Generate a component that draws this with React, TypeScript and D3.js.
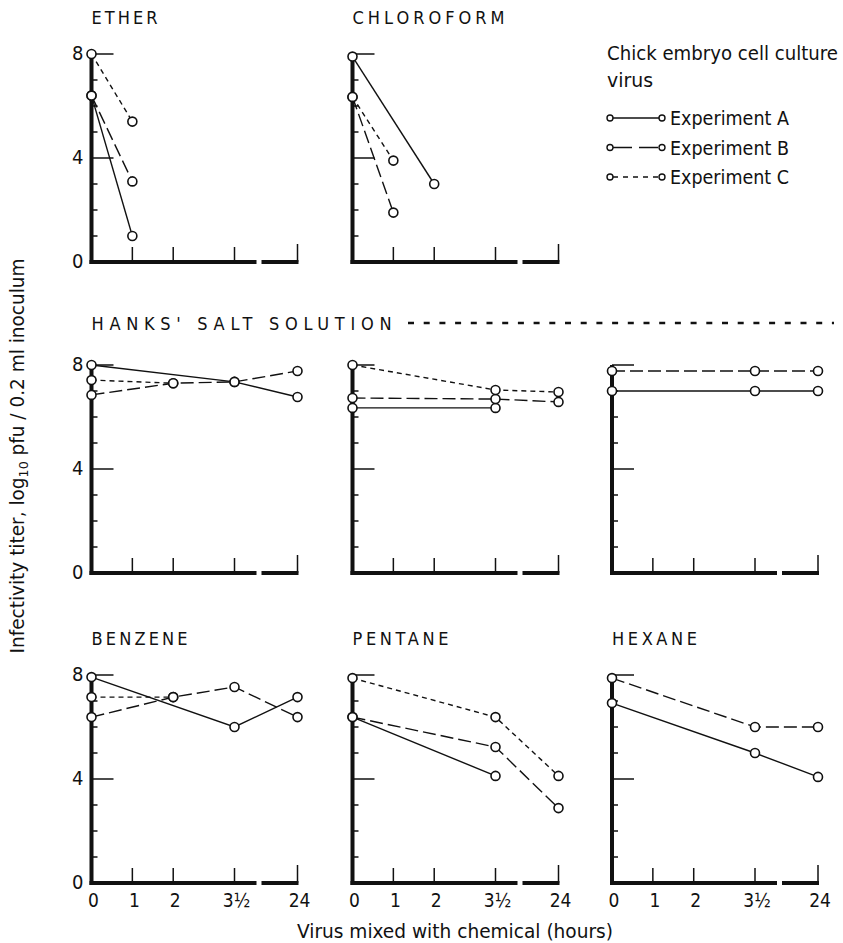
import React from "react";
import * as d3 from "d3";

type Pt = [number, number]; // [hours, log10 pfu]

// axis values
const hourTicks = [1, 2, 3.5, 24];
const hourLabelAt = [0, 1, 2, 3.5, 24];
const hourLabels = ["0", "1", "2", "3½", "24"];
const titerTicks = [1, 2, 3, 4, 5, 6, 7, 8];
const titerLabelAt = [0, 4, 8];

// series
const etherA: Pt[] = [[0, 6.4], [1, 1.0]];
const etherB: Pt[] = [[0, 6.4], [1, 3.1]];
const etherC: Pt[] = [[0, 8.0], [1, 5.4]];

const chloroA: Pt[] = [[0, 7.9], [2, 3.0]];
const chloroB: Pt[] = [[0, 6.35], [1, 1.9]];
const chloroC: Pt[] = [[0, 6.35], [1, 3.9]];

const hanks1A: Pt[] = [[0, 8.0], [3.5, 7.35], [24, 6.77]];
const hanks1B: Pt[] = [[0, 6.85], [2, 7.3], [3.5, 7.35], [24, 7.77]];
const hanks1C: Pt[] = [[0, 7.42], [2, 7.3]];

const hanks2A: Pt[] = [[0, 6.35], [3.5, 6.35]];
const hanks2B: Pt[] = [[0, 6.73], [3.5, 6.69], [24, 6.58]];
const hanks2C: Pt[] = [[0, 8.0], [3.5, 7.04], [24, 6.96]];

const hanks3A: Pt[] = [[0, 7.0], [3.5, 7.0], [24, 7.0]];
const hanks3B: Pt[] = [[0, 7.77], [3.5, 7.77], [24, 7.77]];

const benzeneA: Pt[] = [[0, 7.92], [3.5, 6.0], [24, 7.15]];
const benzeneB: Pt[] = [[0, 6.38], [2, 7.15], [3.5, 7.54], [24, 6.38]];
const benzeneC: Pt[] = [[0, 7.15], [2, 7.15]];

const pentaneA: Pt[] = [[0, 6.38], [3.5, 4.12]];
const pentaneB: Pt[] = [[0, 6.38], [3.5, 5.23], [24, 2.88]];
const pentaneC: Pt[] = [[0, 7.88], [3.5, 6.38], [24, 4.12]];

const hexaneA: Pt[] = [[0, 6.92], [3.5, 5.0], [24, 4.08]];
const hexaneB: Pt[] = [[0, 7.88], [3.5, 6.0], [24, 6.0]];

const experiments = ["A", "B", "C"];
const legendLabels = ["Experiment A", "Experiment B", "Experiment C"];

const dashes: Record<string, string | undefined> = {
  A: undefined,
  B: "13,5",
  C: "5,4",
};
const legendDashes: Record<string, string | undefined> = {
  A: undefined,
  B: "19,7",
  C: "5,5",
};

const panels = [
  { title: "ETHER", tw: 66, col: 0, row: 0, series: { A: etherA, B: etherB, C: etherC } },
  { title: "CHLOROFORM", tw: 152, col: 1, row: 0, series: { A: chloroA, B: chloroB, C: chloroC } },
  { title: "", tw: 0, col: 0, row: 1, series: { A: hanks1A, B: hanks1B, C: hanks1C } },
  { title: "", tw: 0, col: 1, row: 1, series: { A: hanks2A, B: hanks2B, C: hanks2C } },
  { title: "", tw: 0, col: 2, row: 1, series: { A: hanks3A, B: hanks3B } },
  { title: "BENZENE", tw: 96, col: 0, row: 2, series: { A: benzeneA, B: benzeneB, C: benzeneC } },
  { title: "PENTANE", tw: 96, col: 1, row: 2, series: { A: pentaneA, B: pentaneB, C: pentaneC } },
  { title: "HEXANE", tw: 85, col: 2, row: 2, series: { A: hexaneA, B: hexaneB } },
];

const colX = [91.5, 352.5, 612];
const rowY = [262, 573, 883];
const W = 843;
const H = 943;
const font = "'Liberation Sans Narrow','DejaVu Sans Condensed','Liberation Sans',Arial,sans-serif";
const ink = "#111";

function Panel({ p }: { p: (typeof panels)[number] }) {
  const x0 = colX[p.col];
  const y0 = rowY[p.row];
  // piecewise: 0..3.5 h evenly spaced, then a break before 24 h
  const x = d3.scaleLinear().domain([0, 3.5, 24]).range([x0, x0 + 143, x0 + 206]);
  const y = d3.scaleLinear().domain([0, 8]).range([y0, y0 - 208]);
  const line = d3
    .line<Pt>()
    .x((d) => x(d[0]))
    .y((d) => y(d[1]));
  const showY = p.col === 0;
  const showX = p.row === 2;
  const entries = Object.entries(p.series) as [string, Pt[]][];

  return (
    <g>
      {p.title && (
        <text
          x={x0}
          y={y0 - 238}
          fontSize={18}
          fontFamily={font}
          textLength={p.tw}
          lengthAdjust="spacing"
          fill={ink}
        >
          {p.title}
        </text>
      )}
      {/* y axis */}
      <line x1={x0} x2={x0} y1={y(0) + 2} y2={y(8)} stroke={ink} strokeWidth={4} />
      {titerTicks.map((t) => (
        <line
          key={t}
          x1={x0}
          x2={x0 + (t % 4 === 0 ? 22 : 6)}
          y1={y(t)}
          y2={y(t)}
          stroke={ink}
          strokeWidth={1.5}
        />
      ))}
      {showY &&
        titerLabelAt.map((t) => (
          <text
            key={t}
            x={x0 - 8}
            y={y(t) + 6}
            textAnchor="end"
            fontSize={20}
            fontFamily={font}
            fill={ink}
          >
            {t}
          </text>
        ))}
      {/* x axis with a break before 24 h */}
      <line x1={x0 - 2} x2={x0 + 165} y1={y0} y2={y0} stroke={ink} strokeWidth={4} />
      <line x1={x0 + 170} x2={x(24) + 1} y1={y0} y2={y0} stroke={ink} strokeWidth={4} />
      {hourTicks.map((h) => (
        <line
          key={h}
          x1={x(h)}
          x2={x(h)}
          y1={y0}
          y2={y0 - (h === 24 ? 18 : 15)}
          stroke={ink}
          strokeWidth={1.5}
        />
      ))}
      {showX &&
        hourLabelAt.map((h, i) => (
          <text
            key={h}
            x={x(h) + 2}
            y={y0 + 24}
            textAnchor="middle"
            fontSize={19}
            fontFamily={font}
            fill={ink}
          >
            {hourLabels[i]}
          </text>
        ))}
      {/* series */}
      {entries.map(([k, pts]) => (
        <path
          key={"l" + k}
          d={line(pts) ?? ""}
          fill="none"
          stroke={ink}
          strokeWidth={1.4}
          strokeDasharray={dashes[k]}
        />
      ))}
      {entries.map(([k, pts]) =>
        pts.map((d, i) => (
          <circle
            key={k + i}
            cx={x(d[0])}
            cy={y(d[1])}
            r={4.5}
            fill="#fff"
            stroke={ink}
            strokeWidth={1.6}
          />
        ))
      )}
    </g>
  );
}

export default function App() {
  const legendY = d3.scalePoint<string>().domain(experiments).range([118, 177]);
  return (
    <svg
      width={W}
      height={H}
      viewBox={`0 0 ${W} ${H}`}
      style={{ position: "absolute", left: 0, top: 0, background: "#fff" }}
    >
      <rect width={W} height={H} fill="#fff" />
      {panels.map((p, i) => (
        <Panel key={i} p={p} />
      ))}

      {/* Hanks' row heading with its dashed leader */}
      <text
        x={colX[0]}
        y={330}
        fontSize={18}
        fontFamily={font}
        textLength={300}
        lengthAdjust="spacing"
        fill={ink}
      >
        HANKS' SALT  SOLUTION
      </text>
      <line x1={408} x2={834} y1={323} y2={323} stroke={ink} strokeWidth={2.5} strokeDasharray="6,9.7" />

      {/* legend */}
      <text x={607} y={60} fontSize={19} fontFamily={font} fill={ink} textLength={231} lengthAdjust="spacingAndGlyphs">
        Chick embryo cell culture
      </text>
      <text x={607} y={87} fontSize={19} fontFamily={font} fill={ink} textLength={46} lengthAdjust="spacingAndGlyphs">
        virus
      </text>
      {experiments.map((k, i) => {
        const ly = legendY(k) ?? 0;
        return (
          <g key={k}>
            <line x1={613} x2={659} y1={ly} y2={ly} stroke={ink} strokeWidth={1.4} strokeDasharray={legendDashes[k]} />
            <circle cx={610} cy={ly} r={3} fill="#fff" stroke={ink} strokeWidth={1.4} />
            <circle cx={662} cy={ly} r={3} fill="#fff" stroke={ink} strokeWidth={1.4} />
            <text x={670} y={ly + 7} fontSize={19} fontFamily={font} fill={ink} textLength={119} lengthAdjust="spacingAndGlyphs">
              {legendLabels[i]}
            </text>
          </g>
        );
      })}

      {/* axis titles */}
      <text
        transform="translate(24,456) rotate(-90)"
        textAnchor="middle"
        fontSize={19}
        fontFamily={font}
        fill={ink}
        textLength={395}
        lengthAdjust="spacingAndGlyphs"
      >
        Infectivity titer, log
        <tspan fontSize={13} dy={4}>10</tspan>
        <tspan dy={-4}> pfu / 0.2 ml inoculum</tspan>
      </text>
      <text
        x={455}
        y={938}
        textAnchor="middle"
        fontSize={19}
        fontFamily={font}
        fill={ink}
        textLength={316}
        lengthAdjust="spacingAndGlyphs"
      >
        Virus mixed with chemical (hours)
      </text>
    </svg>
  );
}
